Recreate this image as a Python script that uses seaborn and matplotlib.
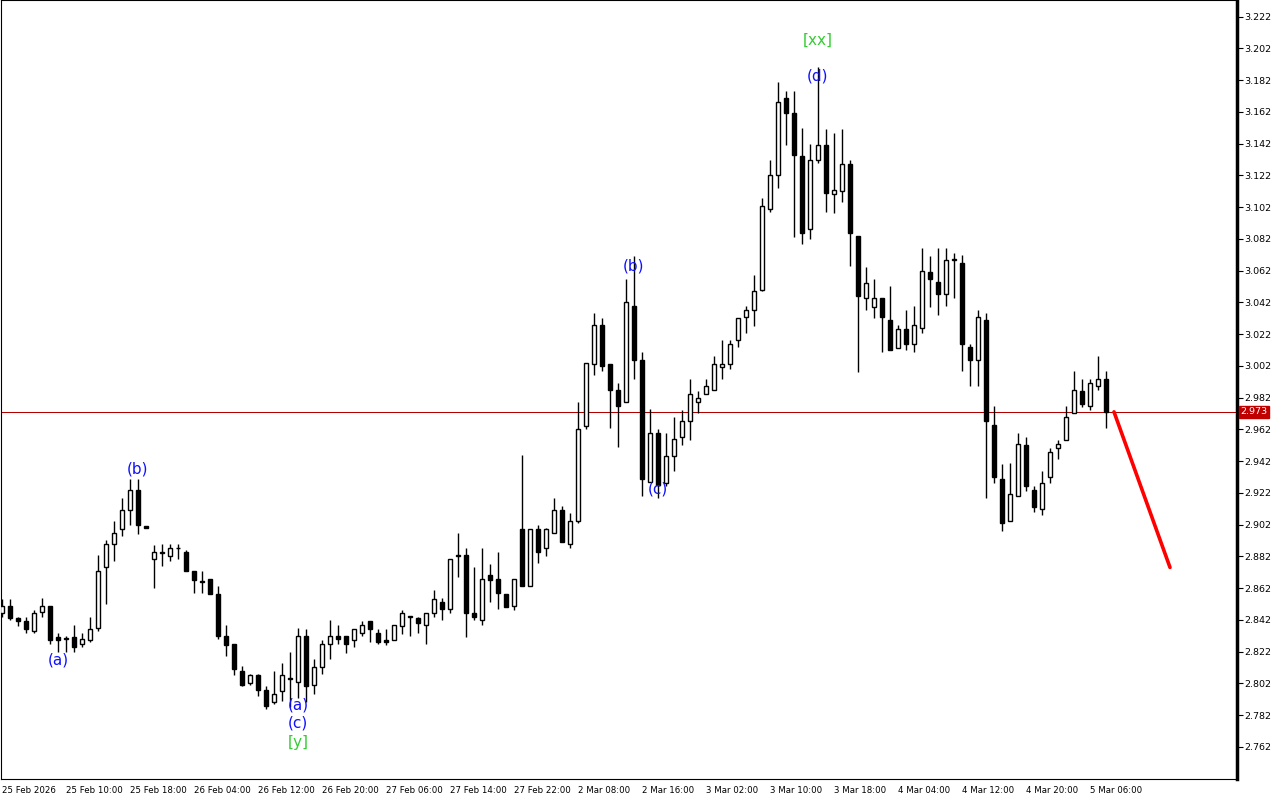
import numpy as np
import pandas as pd
import matplotlib
matplotlib.use('Agg')
import matplotlib.pyplot as plt
import seaborn as sns

# hourly bars
opens = [2.846, 2.851, 2.843, 2.841, 2.835, 2.847, 2.851, 2.831, 2.830, 2.831,
         2.827, 2.829, 2.837, 2.875, 2.890, 2.899, 2.911, 2.924, 2.901, 2.880,
         2.884, 2.882, 2.887, 2.885, 2.873, 2.866, 2.868, 2.858, 2.832, 2.827,
         2.810, 2.802, 2.807, 2.798, 2.790, 2.797, 2.805, 2.803, 2.832, 2.801,
         2.812, 2.827, 2.832, 2.832, 2.829, 2.834, 2.841, 2.834, 2.829, 2.829,
         2.838, 2.844, 2.843, 2.839, 2.846, 2.853, 2.849, 2.882, 2.883, 2.846,
         2.842, 2.870, 2.868, 2.858, 2.851, 2.899, 2.863, 2.899, 2.887, 2.897,
         2.911, 2.890, 2.904, 2.964, 3.003, 3.028, 3.003, 2.987, 2.979, 3.040,
         3.006, 2.929, 2.960, 2.928, 2.945, 2.957, 2.967, 2.979, 2.984, 2.987,
         3.001, 3.003, 3.018, 3.033, 3.037, 3.050, 3.101, 3.122, 3.171, 3.161,
         3.134, 3.088, 3.132, 3.141, 3.110, 3.112, 3.129, 3.084, 3.045, 3.039,
         3.045, 3.031, 3.013, 3.025, 3.016, 3.026, 3.061, 3.055, 3.047, 3.069,
         3.067, 3.014, 3.006, 3.031, 2.965, 2.931, 2.904, 2.920, 2.952, 2.924,
         2.912, 2.932, 2.950, 2.955, 2.972, 2.986, 2.977, 2.989, 2.994]
highs = [2.855, 2.855, 2.844, 2.844, 2.848, 2.856, 2.851, 2.834, 2.832, 2.839,
         2.834, 2.844, 2.883, 2.892, 2.904, 2.919, 2.931, 2.931, 2.901, 2.889,
         2.890, 2.890, 2.890, 2.886, 2.873, 2.873, 2.868, 2.863, 2.839, 2.827,
         2.813, 2.808, 2.808, 2.800, 2.810, 2.815, 2.822, 2.837, 2.836, 2.817,
         2.829, 2.842, 2.839, 2.832, 2.836, 2.841, 2.841, 2.836, 2.836, 2.839,
         2.848, 2.844, 2.844, 2.846, 2.861, 2.856, 2.880, 2.897, 2.887, 2.875,
         2.887, 2.877, 2.885, 2.858, 2.868, 2.946, 2.899, 2.902, 2.900, 2.919,
         2.914, 2.909, 2.979, 3.004, 3.035, 3.032, 3.003, 2.991, 3.057, 3.071,
         3.011, 2.975, 2.962, 2.960, 2.970, 2.974, 2.994, 2.986, 2.994, 3.008,
         3.018, 3.018, 3.032, 3.040, 3.059, 3.108, 3.132, 3.181, 3.175, 3.175,
         3.152, 3.142, 3.190, 3.151, 3.149, 3.151, 3.132, 3.084, 3.064, 3.057,
         3.045, 3.052, 3.028, 3.037, 3.040, 3.076, 3.071, 3.076, 3.076, 3.073,
         3.072, 3.016, 3.037, 3.035, 2.977, 2.940, 2.941, 2.960, 2.957, 2.926,
         2.936, 2.950, 2.955, 2.977, 2.999, 2.994, 2.994, 3.008, 2.999]
lows = [2.844, 2.842, 2.838, 2.834, 2.834, 2.844, 2.827, 2.822, 2.822, 2.822,
        2.825, 2.828, 2.835, 2.852, 2.879, 2.895, 2.902, 2.896, 2.900, 2.862,
        2.876, 2.879, 2.880, 2.873, 2.859, 2.859, 2.858, 2.830, 2.819, 2.807,
        2.800, 2.801, 2.794, 2.786, 2.789, 2.791, 2.787, 2.793, 2.790, 2.795,
        2.808, 2.817, 2.827, 2.821, 2.825, 2.832, 2.828, 2.827, 2.826, 2.829,
        2.833, 2.832, 2.834, 2.827, 2.844, 2.842, 2.846, 2.869, 2.831, 2.842,
        2.839, 2.853, 2.849, 2.850, 2.848, 2.863, 2.863, 2.878, 2.882, 2.897,
        2.891, 2.887, 2.903, 2.962, 2.996, 2.999, 2.963, 2.951, 2.979, 2.994,
        2.920, 2.929, 2.919, 2.926, 2.936, 2.952, 2.955, 2.972, 2.984, 2.987,
        2.994, 3.000, 3.014, 3.023, 3.027, 3.049, 3.099, 3.114, 3.141, 3.083,
        3.079, 3.082, 3.130, 3.099, 3.098, 3.105, 3.065, 2.998, 3.037, 3.032,
        3.011, 3.012, 3.013, 3.012, 3.011, 3.023, 3.039, 3.034, 3.040, 3.045,
        2.999, 2.989, 2.989, 2.919, 2.928, 2.898, 2.904, 2.920, 2.923, 2.910,
        2.908, 2.928, 2.943, 2.955, 2.972, 2.976, 2.974, 2.987, 2.963]
closes = [2.851, 2.843, 2.841, 2.836, 2.846, 2.851, 2.829, 2.829, 2.830, 2.825,
          2.830, 2.836, 2.873, 2.890, 2.897, 2.911, 2.924, 2.902, 2.900, 2.885,
          2.885, 2.887, 2.887, 2.873, 2.867, 2.866, 2.858, 2.832, 2.826, 2.811,
          2.801, 2.807, 2.798, 2.788, 2.795, 2.807, 2.805, 2.832, 2.800, 2.812,
          2.827, 2.832, 2.830, 2.827, 2.836, 2.839, 2.836, 2.828, 2.828, 2.839,
          2.846, 2.844, 2.840, 2.846, 2.855, 2.849, 2.880, 2.883, 2.846, 2.844,
          2.868, 2.867, 2.859, 2.850, 2.868, 2.863, 2.899, 2.885, 2.899, 2.911,
          2.891, 2.904, 2.962, 3.004, 3.028, 3.002, 2.987, 2.977, 3.042, 3.006,
          2.931, 2.960, 2.927, 2.945, 2.956, 2.967, 2.984, 2.982, 2.989, 3.003,
          3.003, 3.016, 3.032, 3.037, 3.049, 3.103, 3.122, 3.168, 3.161, 3.135,
          3.086, 3.132, 3.141, 3.111, 3.113, 3.129, 3.086, 3.046, 3.054, 3.045,
          3.033, 3.012, 3.025, 3.016, 3.028, 3.062, 3.057, 3.047, 3.069, 3.069,
          3.016, 3.006, 3.033, 2.967, 2.932, 2.903, 2.921, 2.953, 2.926, 2.913,
          2.928, 2.948, 2.953, 2.970, 2.987, 2.978, 2.991, 2.994, 2.973]

tick_labels = ['25 Feb 2026', '25 Feb 10:00', '25 Feb 18:00', '26 Feb 04:00',
               '26 Feb 12:00', '26 Feb 20:00', '27 Feb 06:00', '27 Feb 14:00',
               '27 Feb 22:00', '2 Mar 08:00', '2 Mar 16:00', '3 Mar 02:00',
               '3 Mar 10:00', '3 Mar 18:00', '4 Mar 04:00', '4 Mar 12:00',
               '4 Mar 20:00', '5 Mar 06:00']
price_ticks = [2.762, 2.782, 2.802, 2.822, 2.842, 2.862, 2.882, 2.902, 2.922,
               2.942, 2.962, 2.982, 3.002, 3.022, 3.042, 3.062, 3.082, 3.102,
               3.122, 3.142, 3.162, 3.182, 3.202, 3.222]
last_price = 2.973

# wave labels: text, bar index, price level, colour
wave_text = ['(a)', '(b)', '(a)', '(c)', '[y]', '(b)', '(c)', '(d)', '[xx]']
wave_bar = [7, 17, 37, 37, 37, 79, 82, 102, 102]
wave_price = [2.8167, 2.937, 2.7883, 2.777, 2.7645, 3.065, 2.9245, 3.1846, 3.2073]
wave_color = ['blue', 'blue', 'blue', 'blue', 'green', 'blue', 'blue', 'blue', 'green']

# forecast line
forecast_bar = [139, 146]
forecast_price = [2.973, 2.875]

df = pd.DataFrame({'open': opens, 'high': highs, 'low': lows, 'close': closes})
df['bar'] = np.arange(len(df))
df['up'] = df['close'] >= df['open']

sns.set_style('white')
plt.rcParams['font.family'] = ['DejaVu Sans']

fig = plt.figure(figsize=(12.8, 8), dpi=100)
ax = fig.add_axes([1 / 1280, 21 / 800, 1236 / 1280, 779 / 800])

# wicks
ax.vlines(df['bar'], df['low'], df['high'], color='black', linewidth=1, zorder=2)

# bodies
body_lo = df[['open', 'close']].min(axis=1)
body_h = (df['close'] - df['open']).abs().clip(lower=0.0004)
colors = np.where(df['up'], 'white', 'black')
ax.bar(df['bar'], body_h, bottom=body_lo, width=0.62, color=colors,
       edgecolor='black', linewidth=1, zorder=3)

# last price line
ax.axhline(last_price, color='#b00000', linewidth=0.75, zorder=1)

# forecast
fc = pd.DataFrame({'bar': forecast_bar, 'price': forecast_price})
sns.lineplot(data=fc, x='bar', y='price', color='#ff0000', linewidth=2.6, ax=ax,
             zorder=4)

# wave labels
label_colors = {'blue': '#1010ff', 'green': '#33cc33'}
for t, b, p, c in zip(wave_text, wave_bar, wave_price, wave_color):
    ax.text(b, p, t, color=label_colors[c], fontsize=11, ha='center', va='center',
            zorder=5)

ax.set_xlim(-0.125, 154.375)
ax.set_ylim(2.7417, 3.2325)

ax.set_xticks(np.arange(0, 8 * len(tick_labels), 8))
ax.set_xticklabels(tick_labels, fontsize=6.2, ha='left')
ax.set_yticks(price_ticks)
ax.set_yticklabels([f'{v:.3f}' for v in price_ticks], fontsize=6.8)
ax.yaxis.tick_right()
ax.tick_params(axis='x', direction='out', length=5, width=0.8, pad=0, colors='black')
ax.tick_params(axis='y', direction='out', length=4, width=0.8, pad=1, colors='black')
for lbl in ax.get_xticklabels():
    lbl.set_horizontalalignment('left')

for side in ['left', 'bottom', 'top']:
    ax.spines[side].set_color('black')
    ax.spines[side].set_linewidth(0.8)
ax.spines['right'].set_color('black')
ax.spines['right'].set_linewidth(2.5)

ax.set_xlabel('')
ax.set_ylabel('')

# current price tag on the axis
ax.text(1.0025, last_price, f'{last_price:.3f}', transform=ax.get_yaxis_transform(),
        fontsize=6.8, color='white', ha='left', va='center', zorder=6,
        bbox=dict(boxstyle='square,pad=0.15', facecolor='#c00000', edgecolor='#c00000'),
        clip_on=False)

fig.savefig('out.png', dpi=100)
